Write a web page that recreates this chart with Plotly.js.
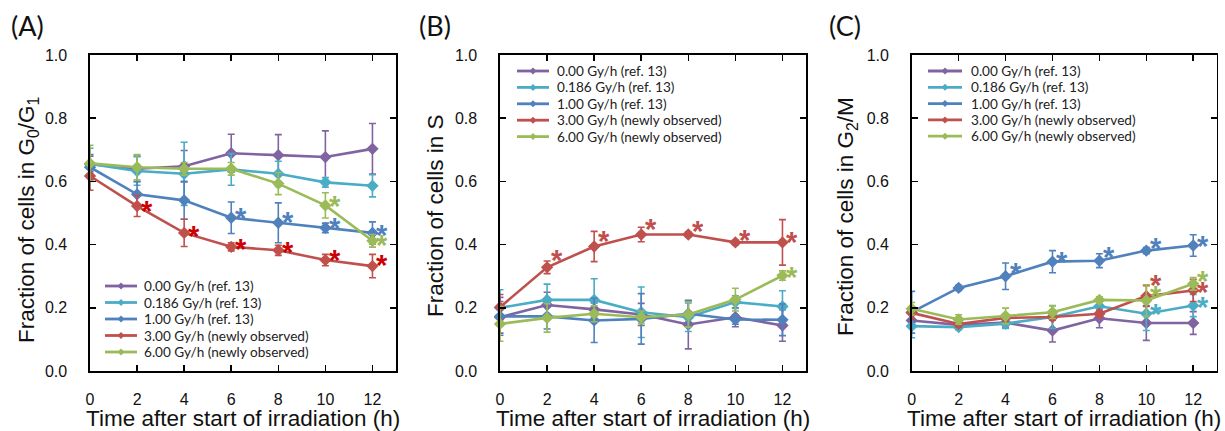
<!DOCTYPE html>
<html><head><meta charset="utf-8">
<script src="https://cdn.plot.ly/plotly-3.0.1.min.js"></script>
<style>html,body{margin:0;padding:0;background:#fff;}#chart{width:1225px;height:431px;}</style>
</head><body><div id="chart"></div>
<script>
// ---------- data ----------
const times = [0, 2, 4, 6, 8, 10, 12];
const seriesNames = ["0.00 Gy/h (ref. 13)", "0.186 Gy/h (ref. 13)", "1.00 Gy/h (ref. 13)", "3.00 Gy/h (newly observed)", "6.00 Gy/h (newly observed)"];
const seriesColors = ["#8064A2", "#4BACC6", "#4F81BD", "#C0504D", "#9BBB59"];
const tickVals = [0, 2, 4, 6, 8, 10, 12];
const panelLabels = ["(A)", "(B)", "(C)"];
const yTitles = ["Fraction of cells in G<sub>0</sub>/G<sub>1</sub>", "Fraction of cells in S", "Fraction of cells in G<sub>2</sub>/M"];
const xTitle = "Time after start of irradiation (h)";

// Panel A: G0/G1
const A_gy000 = [0.655, 0.640, 0.648, 0.689, 0.683, 0.677, 0.703];
const A_gy000_err = [0.025, 0.040, 0.050, 0.060, 0.065, 0.083, 0.080];
const A_gy0186 = [0.655, 0.633, 0.624, 0.638, 0.624, 0.597, 0.586];
const A_gy0186_err = [0.050, 0.045, 0.100, 0.050, 0.040, 0.015, 0.035];
const A_gy100 = [0.645, 0.559, 0.540, 0.485, 0.469, 0.453, 0.437];
const A_gy100_err = [0.040, 0.040, 0.060, 0.050, 0.063, 0.015, 0.035];
const A_gy300 = [0.617, 0.522, 0.437, 0.393, 0.382, 0.351, 0.332];
const A_gy300_err = [0.045, 0.033, 0.043, 0.013, 0.016, 0.018, 0.037];
const A_gy600 = [0.657, 0.645, 0.640, 0.640, 0.593, 0.524, 0.412];
const A_gy600_err = [0.057, 0.040, 0.020, 0.020, 0.035, 0.040, 0.020];

// Panel B: S
const B_gy000 = [0.170, 0.209, 0.195, 0.179, 0.147, 0.170, 0.144];
const B_gy000_err = [0.050, 0.040, 0.020, 0.035, 0.077, 0.030, 0.050];
const B_gy0186 = [0.200, 0.225, 0.225, 0.186, 0.170, 0.218, 0.204];
const B_gy0186_err = [0.057, 0.050, 0.067, 0.080, 0.045, 0.020, 0.050];
const B_gy100 = [0.173, 0.173, 0.160, 0.165, 0.181, 0.163, 0.162];
const B_gy100_err = [0.060, 0.040, 0.070, 0.080, 0.040, 0.015, 0.050];
const B_gy300 = [0.202, 0.328, 0.394, 0.432, 0.432, 0.407, 0.407];
const B_gy300_err = [0.040, 0.020, 0.048, 0.023, 0.008, 0.007, 0.072];
const B_gy600 = [0.149, 0.168, 0.181, 0.170, 0.179, 0.226, 0.302];
const B_gy600_err = [0.055, 0.045, 0.025, 0.020, 0.040, 0.036, 0.015];

// Panel C: G2/M
const C_gy000 = [0.160, 0.146, 0.153, 0.128, 0.167, 0.152, 0.152];
const C_gy000_err = [0.020, 0.010, 0.015, 0.036, 0.030, 0.055, 0.036];
const C_gy0186 = [0.142, 0.139, 0.150, 0.171, 0.205, 0.181, 0.207];
const C_gy0186_err = [0.037, 0.008, 0.015, 0.036, 0.020, 0.053, 0.035];
const C_gy100 = [0.186, 0.263, 0.300, 0.346, 0.349, 0.381, 0.397];
const C_gy100_err = [0.066, 0.008, 0.042, 0.035, 0.022, 0.010, 0.034];
const C_gy300 = [0.184, 0.149, 0.168, 0.171, 0.181, 0.237, 0.255];
const C_gy300_err = [0.020, 0.010, 0.010, 0.010, 0.010, 0.033, 0.035];
const C_gy600 = [0.197, 0.163, 0.174, 0.186, 0.225, 0.223, 0.276];
const C_gy600_err = [0.020, 0.015, 0.025, 0.020, 0.010, 0.050, 0.020];

// significance asterisks (time, level, series index)
const A_sigX = [2, 4, 6, 8, 10, 12, 6, 8, 10, 12, 10, 12];
const A_sigY = [0.531, 0.453, 0.412, 0.401, 0.378, 0.360, 0.509, 0.497, 0.478, 0.457, 0.546, 0.425];
const A_sigS = [3, 3, 3, 3, 3, 3, 2, 2, 2, 2, 4, 4];
const B_sigX = [2, 4, 6, 8, 10, 12, 12];
const B_sigY = [0.376, 0.436, 0.474, 0.467, 0.441, 0.432, 0.323];
const B_sigS = [3, 3, 3, 3, 3, 3, 4];
const C_sigX = [4, 6, 8, 10, 12, 10, 12, 10, 12, 10, 12];
const C_sigY = [0.334, 0.371, 0.386, 0.413, 0.420, 0.297, 0.276, 0.263, 0.311, 0.207, 0.228];
const C_sigS = [2, 2, 2, 2, 2, 3, 3, 4, 4, 1, 1];

// ---------- build ----------
const W = 1225, H = 431;
const panels = [
  {vals: [A_gy000, A_gy0186, A_gy100, A_gy300, A_gy600], errs: [A_gy000_err, A_gy0186_err, A_gy100_err, A_gy300_err, A_gy600_err],
   sx: A_sigX, sy: A_sigY, ss: A_sigS, xd: [90, 396], leg: {x0: 105, x1: 137, tx: 142, y0: 286, dy: 16.5}, lab: 9, yt: {x: 28, y: 220}},
  {vals: [B_gy000, B_gy0186, B_gy100, B_gy300, B_gy600], errs: [B_gy000_err, B_gy0186_err, B_gy100_err, B_gy300_err, B_gy600_err],
   sx: B_sigX, sy: B_sigY, ss: B_sigS, xd: [500, 806], leg: {x0: 517, x1: 549, tx: 555, y0: 71, dy: 16.4}, lab: 417, yt: {x: 435, y: 216}},
  {vals: [C_gy000, C_gy0186, C_gy100, C_gy300, C_gy600], errs: [C_gy000_err, C_gy0186_err, C_gy100_err, C_gy300_err, C_gy600_err],
   sx: C_sigX, sy: C_sigY, ss: C_sigS, xd: [911.7, 1216.7], leg: {x0: 928, x1: 962, tx: 969, y0: 71, dy: 16.3}, lab: 827, yt: {x: 847, y: 217}}
];
const sigColorsA = ["#8064A2", "#4BACC6", "#4F81BD", "#CC0000", "#9BBB59"];

const px = v => v / W;
const py = v => 1 - v / H;
const yDom = [py(371), py(55)];

const traces = [], annotations = [], shapes = [];
const layout = {
  width: W, height: H, margin: {l: 0, r: 0, t: 0, b: 0},
  paper_bgcolor: "#fff", plot_bgcolor: "#fff", showlegend: false,
  font: {family: "Liberation Sans, Arial, sans-serif", color: "#111"},
  annotations: annotations, shapes: shapes
};

panels.forEach((p, k) => {
  const sfx = k === 0 ? "" : String(k + 1);
  const xa = "x" + sfx, ya = "y" + sfx;
  const axCommon = {
    showgrid: false, zeroline: false, showline: true, linecolor: "#000", linewidth: 1.6,
    mirror: "ticks", ticks: "inside", ticklen: 6, tickwidth: 1.5, tickcolor: "#000",
    tickfont: {size: 16, color: "#111"}
  };
  layout["xaxis" + sfx] = Object.assign({}, axCommon, {
    domain: [px(p.xd[0]), px(p.xd[1])], range: [0, 13], anchor: ya,
    tickvals: tickVals, ticklabelstandoff: 13
  });
  layout["yaxis" + sfx] = Object.assign({}, axCommon, {
    domain: yDom, range: [0, 1], anchor: xa,
    tickvals: [0, 0.2, 0.4, 0.6, 0.8, 1.0], tickformat: ".1f", ticklabelstandoff: 18
  });

  // axis titles
  annotations.push({xref: "paper", yref: "paper", x: px((p.xd[0] + p.xd[1]) / 2), y: py(418), text: xTitle,
    showarrow: false, xanchor: "center", yanchor: "middle", borderpad: 0, font: {size: 22.5, color: "#111"}});
  annotations.push({xref: "paper", yref: "paper", x: px(p.yt.x), y: py(p.yt.y), text: yTitles[k], textangle: -90,
    showarrow: false, xanchor: "center", yanchor: "middle", borderpad: 0, font: {size: 22.5, color: "#111"}});

  p.vals.forEach((v, i) => {
    traces.push({
      type: "scatter", mode: "lines+markers", x: times, y: v, xaxis: xa, yaxis: ya,
      name: seriesNames[i], cliponaxis: false,
      line: {color: seriesColors[i], width: 2.6},
      marker: {symbol: "diamond", size: 9.5, color: seriesColors[i]},
      error_y: {type: "data", array: p.errs[i], visible: true, color: seriesColors[i], thickness: 1.6, width: 3.5}
    });
  });

  // asterisks
  p.sx.forEach((t, j) => {
    const c = k === 0 ? sigColorsA[p.ss[j]] : seriesColors[p.ss[j]];
    annotations.push({
      xref: xa, yref: ya, x: t, y: p.sy[j], text: "<b>*</b>", showarrow: false,
      xanchor: "center", yanchor: "middle", xshift: 10, yshift: -8,
      font: {size: 29, color: c, family: "Liberation Sans, Arial, sans-serif"}
    });
  });

  // legend
  seriesNames.forEach((nm, i) => {
    const yy = p.leg.y0 + i * p.leg.dy;
    shapes.push({type: "line", xref: "paper", yref: "paper", x0: px(p.leg.x0), x1: px(p.leg.x1), y0: py(yy), y1: py(yy),
      line: {color: seriesColors[i], width: 2.8}});
    shapes.push({type: "path", xref: "paper", yref: "paper", xsizemode: "pixel", ysizemode: "pixel",
      xanchor: px((p.leg.x0 + p.leg.x1) / 2), yanchor: py(yy), path: "M -3.5 0 L 0 3.5 L 3.5 0 L 0 -3.5 Z",
      fillcolor: seriesColors[i], line: {width: 0}});
    annotations.push({xref: "paper", yref: "paper", x: px(p.leg.tx), y: py(yy), text: nm, showarrow: false,
      xanchor: "left", yanchor: "middle", font: {family: "Lato, sans-serif", size: 13.6, color: "#222"}});
  });

  // panel label
  annotations.push({xref: "paper", yref: "paper", x: px(p.lab), y: py(7), text: panelLabels[k], showarrow: false,
    xanchor: "left", yanchor: "top", font: {family: "Lato, sans-serif", size: 27, color: "#111"}});
});

Plotly.newPlot("chart", traces, layout, {staticPlot: true, displayModeBar: false});
</script>
</body></html>
